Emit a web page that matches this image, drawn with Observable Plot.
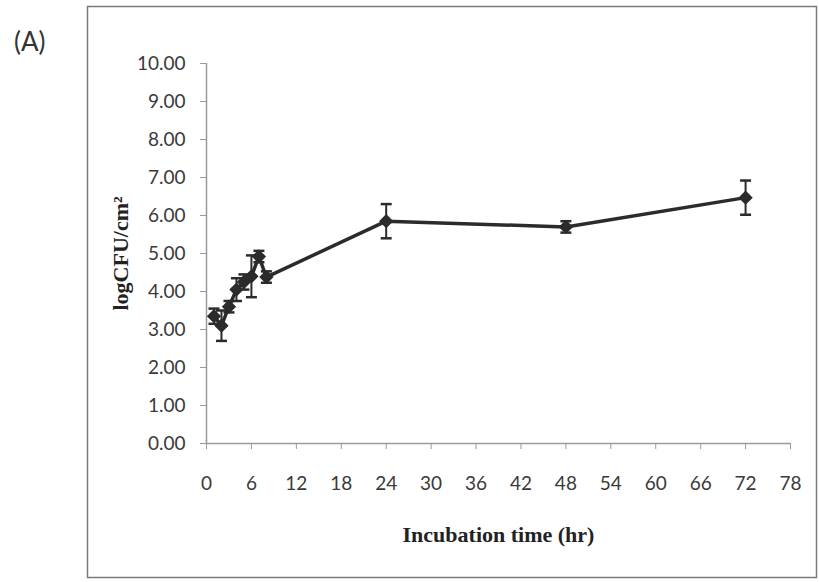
<!DOCTYPE html>
<html>
<head>
<meta charset="utf-8">
<script src="https://cdn.jsdelivr.net/npm/d3@7"></script>
<script src="https://cdn.jsdelivr.net/npm/@observablehq/plot@0.6"></script>
<style>
  html, body { margin: 0; padding: 0; background: white; }
  #chart { width: 819px; height: 582px; }
</style>
</head>
<body>
<div id="chart"></div>
<script>
// Incubation time (hr)
const times = [1, 2, 3, 4, 5, 6, 7, 8, 24, 48, 72];
// log CFU/cm² mean values
const logCFU = [3.35, 3.1, 3.6, 4.05, 4.25, 4.4, 4.92, 4.38, 5.85, 5.7, 6.47];
// error bar half-lengths
const errors = [0.2, 0.4, 0.15, 0.3, 0.2, 0.55, 0.15, 0.15, 0.45, 0.15, 0.45];
// axis ticks
const xTicks = [0, 6, 12, 18, 24, 30, 36, 42, 48, 54, 60, 66, 72, 78];
const yTicks = [0, 1, 2, 3, 4, 5, 6, 7, 8, 9, 10];
const panelLabel = "(A)";
const xTitle = "Incubation time (hr)";
const yTitle = "logCFU/cm²";

const data = times.map((t, i) => ({t, y: logCFU[i], lo: logCFU[i] - errors[i], hi: logCFU[i] + errors[i]}));

const cap = {
  draw(context, size) {
    const w = Math.sqrt(size / Math.PI);
    context.moveTo(-w, 0);
    context.lineTo(w, 0);
  }
};

const ink = "#2b2b2b";
const axisGray = "#9a9a9a";

const plot = Plot.plot({
  width: 819,
  height: 582,
  marginLeft: 206,
  marginRight: 29,
  marginTop: 63,
  marginBottom: 139,
  x: {domain: [0, 78]},
  y: {domain: [0, 10]},
  style: {background: "white", fontFamily: "Lato, sans-serif"},
  marks: [
    Plot.ruleX([0], {stroke: axisGray, strokeWidth: 1.5}),
    Plot.ruleY([0], {stroke: axisGray, strokeWidth: 1.5}),
    Plot.axisY({ticks: yTicks, tickFormat: d => d.toFixed(2), tickSize: 6, tickPadding: 15,
      fontSize: 19, label: null, stroke: axisGray, fill: "#3a3a3a"}),
    Plot.axisX({ticks: xTicks, tickFormat: d => String(d), tickSize: 6, tickPadding: 27,
      fontSize: 19, label: null, stroke: axisGray, fill: "#3a3a3a"}),
    Plot.ruleX(data, {x: "t", y1: "lo", y2: "hi", stroke: ink, strokeWidth: 2}),
    Plot.dot(data, {x: "t", y: "lo", symbol: cap, r: 5.5, stroke: ink, strokeWidth: 2.5}),
    Plot.dot(data, {x: "t", y: "hi", symbol: cap, r: 5.5, stroke: ink, strokeWidth: 2.5}),
    Plot.line(data, {x: "t", y: "y", stroke: ink, strokeWidth: 3.5}),
    Plot.dot(data, {x: "t", y: "y", symbol: "diamond2", r: 5.5, fill: ink, stroke: ink, strokeWidth: 1.5}),
    Plot.text([yTitle], {frameAnchor: "left", dx: -86, rotate: -90, textAnchor: "middle",
      fontFamily: "Liberation Serif, serif", fontWeight: "bold", fontSize: 22, fill: "#222"}),
    Plot.text([xTitle], {frameAnchor: "bottom", dy: 98, textAnchor: "middle",
      fontFamily: "Liberation Serif, serif", fontWeight: "bold", fontSize: 22, fill: "#222"})
  ]
});

const svg = d3.select(plot);
svg.append("rect")
  .attr("x", 87.5).attr("y", 6.5).attr("width", 729).attr("height", 571)
  .attr("fill", "none").attr("stroke", "#7a7a7a").attr("stroke-width", 1.5);
svg.append("text")
  .attr("x", 14).attr("y", 51)
  .attr("text-anchor", "start")
  .attr("font-family", "Lato, sans-serif").attr("font-size", 26).attr("fill", "#333")
  .text(panelLabel);

document.getElementById("chart").appendChild(plot);
</script>
</body>
</html>
